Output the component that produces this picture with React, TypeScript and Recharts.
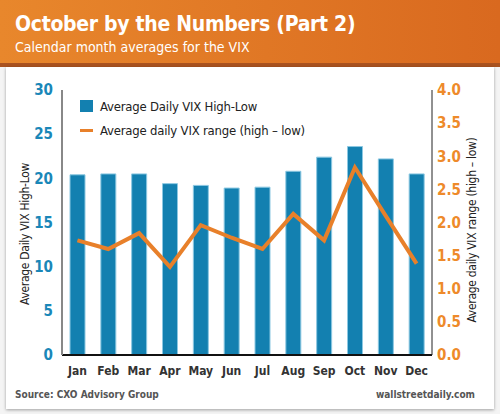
import React from 'react';
import { ComposedChart, Bar, Line, XAxis, YAxis, Legend } from 'recharts';

const months = ['Jan', 'Feb', 'Mar', 'Apr', 'May', 'Jun', 'Jul', 'Aug', 'Sep', 'Oct', 'Nov', 'Dec'];
const vixHighLow = [20.4, 20.5, 20.5, 19.4, 19.2, 18.9, 19.0, 20.8, 22.4, 23.6, 22.2, 20.5];
const vixRange = [1.73, 1.6, 1.84, 1.33, 1.96, 1.77, 1.6, 2.13, 1.73, 2.83, 2.1, 1.38];
const leftTicks = [0, 5, 10, 15, 20, 25, 30];
const rightTicks = [0, 0.5, 1, 1.5, 2, 2.5, 3, 3.5, 4];

const data = months.map((m, i) => ({ month: m, high: vixHighLow[i], range: vixRange[i] }));

const FONT = '"DejaVu Sans Condensed", "DejaVu Sans", sans-serif';
const BLUE = '#1380b0';
const ORANGE = '#e8802a';

const textBase: React.CSSProperties = { fontFamily: FONT, fontStretch: 'condensed' };

const renderLegend = () => (
  <div style={{ ...textBase, fontSize: 13, color: '#222', textAlign: 'left', letterSpacing: -0.2 }}>
    <div style={{ display: 'flex', alignItems: 'center', height: 22 }}>
      <span style={{ width: 13, height: 12, background: BLUE, display: 'inline-block', marginRight: 7 }} />
      Average Daily VIX High-Low
    </div>
    <div style={{ display: 'flex', alignItems: 'center', height: 22, marginTop: 2 }}>
      <span style={{ width: 13, height: 3, background: ORANGE, display: 'inline-block', marginRight: 7 }} />
      Average daily VIX range (high – low)
    </div>
  </div>
);

export default function App() {
  return (
    <div style={{ position: 'absolute', left: 0, top: 0, width: 500, height: 414, background: '#f4f4f4', overflow: 'hidden', ...textBase }}>
      <div style={{ position: 'absolute', left: 0, top: 0, width: 500, height: 63, background: 'linear-gradient(to right, #e8872c, #d9691f)' }} />
      <div style={{ position: 'absolute', left: 0, top: 63, width: 500, height: 4, background: '#a9521f' }} />
      <div style={{ position: 'absolute', left: 6, top: 67, width: 488, height: 342, background: '#fff', boxShadow: '0 1px 3px rgba(0,0,0,0.35)' }} />
      <div style={{ position: 'absolute', left: 15, top: 13, color: '#fff', fontWeight: 'bold', fontSize: 21, lineHeight: '23px', whiteSpace: 'nowrap', letterSpacing: -0.3 }}>
        October by the Numbers (Part 2)
      </div>
      <div style={{ position: 'absolute', left: 15, top: 39, color: '#fff', fontSize: 14, lineHeight: '17px', whiteSpace: 'nowrap' }}>
        Calendar month averages for the VIX
      </div>
      <div style={{ position: 'absolute', left: 25, top: 234, width: 0, height: 0 }}>
        <div style={{ position: 'absolute', transform: 'translate(-50%, -50%) rotate(-90deg)', whiteSpace: 'nowrap', fontSize: 12, letterSpacing: -0.3, color: '#222' }}>
          Average Daily VIX High-Low
        </div>
      </div>
      <div style={{ position: 'absolute', left: 472, top: 230, width: 0, height: 0 }}>
        <div style={{ position: 'absolute', transform: 'translate(-50%, -50%) rotate(-90deg)', whiteSpace: 'nowrap', fontSize: 12, letterSpacing: -0.3, color: '#222' }}>
          Average daily VIX range (high – low)
        </div>
      </div>
      <div style={{ position: 'absolute', left: 15, top: 389, fontSize: 10, fontWeight: 'bold', color: '#555', whiteSpace: 'nowrap' }}>
        Source: CXO Advisory Group
      </div>
      <div style={{ position: 'absolute', right: 25, top: 389, fontSize: 10, fontWeight: 'bold', color: '#555', whiteSpace: 'nowrap' }}>
        wallstreetdaily.com
      </div>
      <div style={{ position: 'absolute', left: 0, top: 0 }}>
        <ComposedChart width={500} height={414} data={data} margin={{ top: 90, right: 8, bottom: 29, left: 2 }}>
          <XAxis
            dataKey="month"
            height={30}
            tickLine={false}
            tickSize={0}
            tickMargin={11}
            axisLine={{ stroke: '#111', strokeWidth: 2 }}
            tick={{ fill: '#333', fontSize: 12, fontWeight: 'bold', fontFamily: FONT, style: { fontStretch: 'condensed' } }}
            interval={0}
          />
          <YAxis
            yAxisId="left"
            width={60}
            domain={[0, 30]}
            ticks={leftTicks}
            tickLine={false}
            tickSize={0}
            tickMargin={9}
            axisLine={{ stroke: '#888', strokeWidth: 2 }}
            tick={{ fill: '#1a87b8', fontSize: 15, fontWeight: 'bold', fontFamily: FONT, style: { fontStretch: 'condensed' } }}
          />
          <YAxis
            yAxisId="right"
            orientation="right"
            width={60}
            domain={[0, 4]}
            ticks={rightTicks}
            tickFormatter={(v: number) => v.toFixed(1)}
            tickLine={false}
            tickSize={0}
            tickMargin={5}
            axisLine={{ stroke: '#222', strokeWidth: 1 }}
            tick={{ fill: '#ee8a2a', fontSize: 15, fontWeight: 'bold', fontFamily: FONT, style: { fontStretch: 'condensed' } }}
          />
          <Legend
            layout="vertical"
            verticalAlign="middle"
            align="center"
            content={renderLegend}
            wrapperStyle={{ left: 80, top: 95, width: 280 }}
          />
          <Bar
            yAxisId="left"
            dataKey="high"
            fill={BLUE}
            stroke="#8cc8e2"
            strokeWidth={1}
            barSize={15}
            isAnimationActive={false}
          />
          <Line
            yAxisId="right"
            dataKey="range"
            type="linear"
            stroke={ORANGE}
            strokeWidth={4}
            dot={false}
            activeDot={false}
            isAnimationActive={false}
          />
        </ComposedChart>
      </div>
    </div>
  );
}
